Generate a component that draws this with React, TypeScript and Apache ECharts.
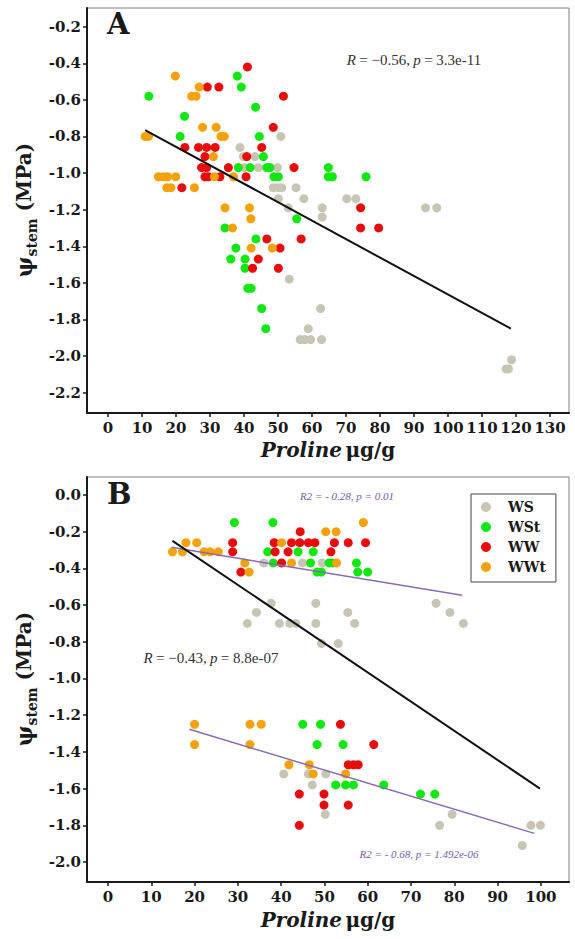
import React, { useEffect, useRef } from "react";
import * as echarts from "echarts";

// ---------- Panel A data (Proline µg/g, Ψstem MPa) ----------
const aWS = [[38.8,-0.86],[39.8,-0.91],[43.2,-0.91],[40.1,-0.97],[44.2,-0.97],[49.8,-0.97],[50.8,-0.80],[48.6,-1.08],[50.1,-1.08],[51.1,-1.08],[55.3,-1.08],[50.1,-1.14],[57.6,-1.14],[53.0,-1.19],[63.0,-1.19],[63.0,-1.24],[70.2,-1.14],[72.9,-1.14],[93.4,-1.19],[96.7,-1.19],[53.3,-1.58],[62.5,-1.74],[58.9,-1.85],[56.5,-1.91],[57.9,-1.91],[59.6,-1.91],[62.8,-1.91],[117.1,-2.07],[117.8,-2.07],[118.7,-2.02]];
const aWSt = [[12.0,-0.58],[22.5,-0.69],[21.2,-0.80],[38.0,-0.47],[39.2,-0.53],[43.4,-0.64],[44.5,-0.80],[45.7,-0.91],[38.3,-0.97],[41.8,-0.97],[46.7,-0.97],[47.6,-0.97],[48.8,-1.02],[50.1,-1.02],[64.8,-0.97],[64.8,-1.02],[66.0,-1.02],[75.9,-1.02],[55.5,-1.25],[34.4,-1.30],[43.5,-1.36],[37.6,-1.41],[36.1,-1.47],[40.3,-1.47],[40.3,-1.52],[41.1,-1.63],[42.1,-1.63],[45.2,-1.74],[46.4,-1.85]];
const aWW = [[41.0,-0.42],[29.2,-0.53],[32.6,-0.53],[51.6,-0.58],[48.6,-0.75],[22.6,-0.86],[26.6,-0.86],[29.0,-0.86],[31.5,-0.86],[45.2,-0.86],[28.5,-0.91],[40.8,-0.91],[27.5,-0.97],[29.0,-0.97],[35.4,-0.97],[54.7,-0.97],[28.5,-1.02],[29.5,-1.02],[32.9,-1.02],[40.6,-1.02],[21.7,-1.08],[74.3,-1.19],[74.3,-1.30],[79.6,-1.30],[46.7,-1.36],[56.8,-1.36],[50.6,-1.41],[44.2,-1.47],[42.5,-1.52],[50.1,-1.52]];
const aWWt = [[19.8,-0.47],[26.8,-0.53],[24.6,-0.58],[25.9,-0.58],[27.8,-0.75],[31.8,-0.75],[10.9,-0.80],[11.9,-0.80],[33.2,-0.80],[34.2,-0.80],[31.0,-0.91],[14.8,-1.02],[16.3,-1.02],[17.5,-1.02],[19.9,-1.02],[31.3,-1.02],[36.9,-1.02],[17.3,-1.08],[18.5,-1.08],[25.4,-1.08],[34.4,-1.19],[41.6,-1.19],[42.0,-1.25],[36.6,-1.30],[42.1,-1.41],[48.3,-1.41]];
const aTrend = [[10.9,-0.765],[118.5,-1.85]];

// ---------- Panel B data ----------
const bWS = [[36.0,-0.37],[44.9,-0.37],[49.5,-0.37],[37.7,-0.59],[48.0,-0.59],[34.3,-0.64],[55.4,-0.64],[32.2,-0.70],[39.6,-0.70],[42.0,-0.70],[43.4,-0.70],[48.0,-0.70],[57.0,-0.70],[49.3,-0.81],[53.2,-0.81],[75.8,-0.59],[79.0,-0.64],[82.1,-0.70],[40.6,-1.52],[46.3,-1.52],[50.3,-1.52],[47.2,-1.58],[50.2,-1.74],[79.5,-1.74],[76.6,-1.80],[95.7,-1.91],[97.7,-1.80],[99.9,-1.80]];
const bWSt = [[29.2,-0.15],[38.1,-0.15],[36.9,-0.31],[38.2,-0.37],[43.9,-0.31],[47.4,-0.31],[46.8,-0.37],[51.1,-0.37],[51.9,-0.37],[57.4,-0.37],[48.3,-0.42],[49.3,-0.42],[57.7,-0.42],[60.0,-0.42],[45.0,-1.25],[49.1,-1.25],[48.3,-1.36],[54.3,-1.36],[52.6,-1.58],[54.9,-1.58],[56.7,-1.58],[63.7,-1.58],[72.2,-1.63],[75.5,-1.63]];
const bWW = [[28.8,-0.26],[28.8,-0.31],[30.7,-0.42],[38.4,-0.26],[38.6,-0.31],[40.1,-0.37],[41.6,-0.31],[42.4,-0.26],[44.3,-0.26],[46.3,-0.26],[47.8,-0.26],[44.4,-0.20],[52.3,-0.26],[55.5,-0.26],[59.5,-0.26],[51.5,-0.31],[53.7,-1.25],[61.4,-1.36],[55.5,-1.47],[56.7,-1.47],[57.8,-1.47],[44.2,-1.63],[49.9,-1.63],[49.9,-1.69],[55.5,-1.69],[44.2,-1.80]];
const bWWt = [[14.9,-0.31],[17.2,-0.31],[18.0,-0.26],[20.5,-0.26],[22.2,-0.31],[23.6,-0.31],[25.5,-0.31],[31.6,-0.37],[32.6,-0.42],[40.1,-0.26],[42.4,-0.37],[50.3,-0.20],[52.7,-0.20],[52.8,-0.37],[59.0,-0.15],[20.0,-1.25],[20.0,-1.36],[32.8,-1.25],[35.4,-1.25],[32.8,-1.36],[41.8,-1.47],[46.5,-1.47],[47.4,-1.52],[54.9,-1.52]];
const bTrend = [[14.9,-0.25],[99.8,-1.60]];
const bTrendUpper = [[14.7,-0.285],[81.8,-0.547]];
const bTrendLower = [[18.8,-1.277],[98.5,-1.844]];

// ---------- ticks ----------
const aXTicks = [0,10,20,30,40,50,60,70,80,90,100,110,120,130];
const aYTicks = [-2.2,-2.0,-1.8,-1.6,-1.4,-1.2,-1.0,-0.8,-0.6,-0.4,-0.2];
const bXTicks = [0,10,20,30,40,50,60,70,80,90,100];
const bYTicks = [-2.0,-1.8,-1.6,-1.4,-1.2,-1.0,-0.8,-0.6,-0.4,-0.2,0.0];

const groups = ["WS", "WSt", "WW", "WWt"];
const colors = ["#c9c5b4", "#11e811", "#e80c0c", "#f4a20c"];

const SERIF = '"DejaVu Serif", serif';
const TIMES = '"Liberation Serif", serif';
const INK = "#1a1a1a";
const PURPLE = "#7a5aa6";

function xAxis(gridIndex: number, min: number, max: number, ticks: number[]) {
  return {
    type: "value", gridIndex, min, max,
    axisLine: { show: true, onZero: false, lineStyle: { color: INK, width: 2 } },
    axisTick: { show: true, customValues: ticks, length: 4, lineStyle: { color: INK, width: 1.5 } },
    axisLabel: { customValues: ticks, margin: 7, fontFamily: SERIF, fontWeight: "bold", fontSize: 15, color: INK },
    splitLine: { show: false },
  };
}
function yAxis(gridIndex: number, min: number, max: number, ticks: number[]) {
  return {
    type: "value", gridIndex, min, max,
    axisLine: { show: true, onZero: false, lineStyle: { color: INK, width: 2 } },
    axisTick: { show: true, customValues: ticks, length: 4, lineStyle: { color: INK, width: 1.5 } },
    axisLabel: { customValues: ticks, margin: 6, fontFamily: SERIF, fontWeight: "bold", fontSize: 15, color: INK,
      formatter: (v: number) => v.toFixed(1) },
    splitLine: { show: false },
  };
}
function scatter(name: string, data: number[][], idx: number, color: string) {
  return { type: "scatter", name, data, xAxisIndex: idx, yAxisIndex: idx, symbolSize: 9,
    itemStyle: { color, opacity: 1 }, emphasis: { disabled: true } };
}
function trend(data: number[][], idx: number, color: string, width: number) {
  return { type: "line", data, xAxisIndex: idx, yAxisIndex: idx, symbol: "none", showSymbol: false,
    lineStyle: { color, width }, z: 5, silent: true };
}

const yLabelRich = {
  psi: { fontFamily: SERIF, fontWeight: "bold", fontSize: 22, lineHeight: 30, verticalAlign: "middle", fill: INK },
  sub: { fontFamily: SERIF, fontWeight: "bold", fontSize: 14, lineHeight: 30, verticalAlign: "bottom", fill: INK },
  n: { fontFamily: SERIF, fontWeight: "bold", fontSize: 20, lineHeight: 30, verticalAlign: "middle", fill: INK },
};
const xLabelRich = {
  i: { fontFamily: SERIF, fontWeight: "bold", fontStyle: "italic", fontSize: 20, fill: INK },
  n: { fontFamily: SERIF, fontWeight: "bold", fontSize: 20, fill: INK },
};
const annRich = {
  i: { fontFamily: TIMES, fontStyle: "italic", fontSize: 15, fill: "#333" },
  n: { fontFamily: TIMES, fontSize: 15, fill: "#333" },
};
const purpleRich = {
  i: { fontFamily: TIMES, fontStyle: "italic", fontSize: 11, fill: PURPLE },
};

export default function App() {
  const ref = useRef<HTMLDivElement>(null);
  useEffect(() => {
    const chart = echarts.init(ref.current!, null, { renderer: "svg" });
    const option: any = {
      animation: false,
      backgroundColor: "#ffffff",
      grid: [
        { left: 87, top: 8, width: 482, height: 405, show: true, borderColor: "#808080", borderWidth: 1, backgroundColor: "transparent" },
        { left: 87, top: 477, width: 482, height: 405, show: true, borderColor: "#808080", borderWidth: 1, backgroundColor: "transparent" },
      ],
      xAxis: [xAxis(0, -6.2, 135.6, aXTicks), xAxis(1, -4.85, 106.5, bXTicks)],
      yAxis: [yAxis(0, -2.311, -0.098, aYTicks), yAxis(1, -2.109, 0.098, bYTicks)],
      legend: {
        data: groups, orient: "vertical", left: 471, top: 494,
        borderColor: "#444", borderWidth: 1, padding: [6, 10, 8, 10], itemGap: 6,
        itemWidth: 10, itemHeight: 10, icon: "circle",
        textStyle: { fontFamily: SERIF, fontWeight: "bold", fontSize: 14, color: INK, padding: [0, 0, 0, 12] },
      },
      series: [
        scatter(groups[0], aWS, 0, colors[0]),
        scatter(groups[1], aWSt, 0, colors[1]),
        scatter(groups[2], aWW, 0, colors[2]),
        scatter(groups[3], aWWt, 0, colors[3]),
        trend(aTrend, 0, "#111", 2),
        scatter(groups[0], bWS, 1, colors[0]),
        scatter(groups[1], bWSt, 1, colors[1]),
        scatter(groups[2], bWW, 1, colors[2]),
        scatter(groups[3], bWWt, 1, colors[3]),
        trend(bTrendUpper, 1, "#8a6bb5", 1.5),
        trend(bTrendLower, 1, "#8a6bb5", 1.5),
        trend(bTrend, 1, "#111", 2),
      ],
      graphic: [
        { type: "text", left: 107, top: 9, z: 10, style: { text: "A", fontFamily: SERIF, fontWeight: "bold", fontSize: 29, fill: INK } },
        { type: "text", left: 107, top: 479, z: 10, style: { text: "B", fontFamily: SERIF, fontWeight: "bold", fontSize: 29, fill: INK } },
        { type: "text", x: 414, y: 60, z: 10, style: { text: "{i|R} {n|= −0.56,} {i|p} {n|= 3.3e-11}", rich: annRich, align: "center", verticalAlign: "middle" } },
        { type: "text", x: 211, y: 658, z: 10, style: { text: "{i|R} {n|= −0.43,} {i|p} {n|= 8.8e-07}", rich: annRich, align: "center", verticalAlign: "middle" } },
        { type: "text", x: 347, y: 496, z: 10, style: { text: "{i|R2 = - 0.28, p = 0.01}", rich: purpleRich, align: "center", verticalAlign: "middle" } },
        { type: "text", x: 419, y: 854, z: 10, style: { text: "{i|R2 = - 0.68, p = 1.492e-06}", rich: purpleRich, align: "center", verticalAlign: "middle" } },
        { type: "text", x: 24, y: 210, rotation: Math.PI / 2, z: 10, style: { text: "{psi|ψ}{sub|stem}{n| (MPa)}", rich: yLabelRich, align: "center", verticalAlign: "middle" } },
        { type: "text", x: 24, y: 679, rotation: Math.PI / 2, z: 10, style: { text: "{psi|ψ}{sub|stem}{n| (MPa)}", rich: yLabelRich, align: "center", verticalAlign: "middle" } },
        { type: "text", x: 328, y: 450, z: 10, style: { text: "{i|Proline} {n|μg/g}", rich: xLabelRich, align: "center", verticalAlign: "middle" } },
        { type: "text", x: 328, y: 920, z: 10, style: { text: "{i|Proline} {n|μg/g}", rich: xLabelRich, align: "center", verticalAlign: "middle" } },
      ],
    };
    chart.setOption(option);
    return () => chart.dispose();
  }, []);
  return <div ref={ref} style={{ position: "fixed", left: 0, top: 0, width: 575, height: 939 }} />;
}
